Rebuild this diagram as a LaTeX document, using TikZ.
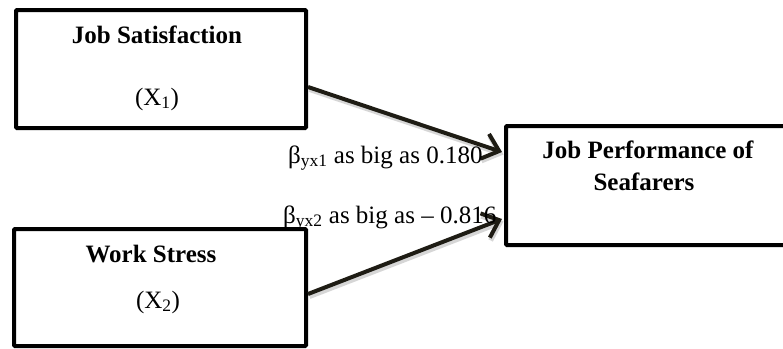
\documentclass[tikz,border=0pt]{standalone}
\usepackage{fontspec}
\setmainfont{Liberation Serif}
\usetikzlibrary{arrows.meta,calc}
\definecolor{arrowcol}{HTML}{1E1C14}
\begin{document}
\begin{tikzpicture}[x=1pt,y=-1pt,
  boxnode/.style={draw=black,line width=4pt,rounded corners=1pt,inner sep=0pt,anchor=north west},
  titletext/.style={font=\fontsize{25}{30}\selectfont\bfseries,inner sep=0pt,anchor=base},
  vartext/.style={font=\fontsize{25}{30}\selectfont,inner sep=0pt,anchor=base},
  labeltext/.style={font=\fontsize{25}{30}\selectfont\rmfamily,inner sep=0pt,anchor=base west},
  conn/.style={draw=arrowcol,line width=4pt,-{Straight Barb[length=15pt,width=26pt]}},
  connshadow/.style={draw=black!35,opacity=0.45,line width=5pt,-{Straight Barb[length=15pt,width=26pt]}}
]
\useasboundingbox (0,0) rectangle (783,348);
\clip (0,0) rectangle (783,348);
\fill[white] (0,0) rectangle (783,348);

% boxes
\node[boxnode,minimum width=290pt,minimum height=118pt] (b1) at (14,8) {};
\node[boxnode,minimum width=292pt,minimum height=117pt] (b2) at (12,227) {};
\node[boxnode,minimum width=300pt,minimum height=119pt] (b3) at (504,124) {};

% box texts
\node[titletext] (t1) at (157,43) {Job Satisfaction};
\node[vartext] (v1) at (157,105) {(X\textsubscript{1})};
\node[titletext] (t2) at (151,262) {Work Stress};
\node[vartext] (v2) at (158,308) {(X\textsubscript{2})};
\node[titletext] (t3) at (648,158) {Job Performance of};
\node[titletext] (t3b) at (644,190) {Seafarers};

% connector end points on the box borders
\coordinate (s1) at ($(b1.north east)+(0,79)$);
\coordinate (e1) at ($(b3.north west)+(-2,28)$);
\coordinate (s2) at ($(b2.north east)+(0,67)$);
\coordinate (e2) at ($(b3.north west)+(-2,95)$);

% shadows
\draw[connshadow] ([shift={(1.5,2.5)}]s1) -- ([shift={(1.5,2.5)}]e1);
\draw[connshadow] ([shift={(1.5,2.5)}]s2) -- ([shift={(1.5,2.5)}]e2);
% connectors
\draw[conn] (s1) -- (e1);
\draw[conn] (s2) -- (e2);

% labels
\node[labeltext] (l1) at (288,163) {β\textsubscript{yx1} as big as 0.180};
\node[labeltext] (l2) at (283,223) {β\textsubscript{yx2} as big as – 0.816};
\end{tikzpicture}
\end{document}
